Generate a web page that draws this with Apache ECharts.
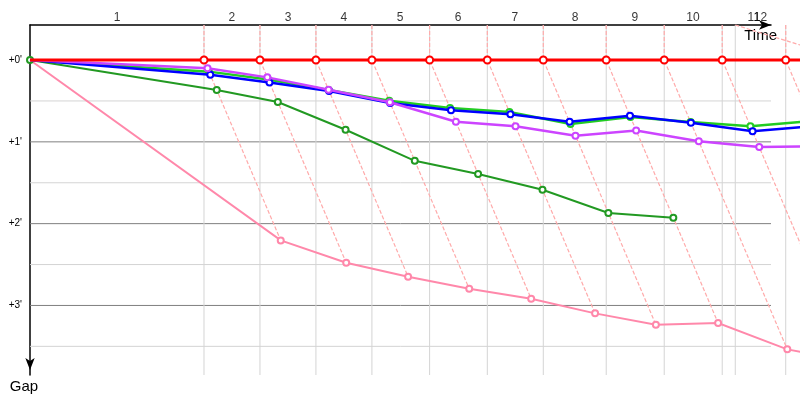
<!DOCTYPE html>
<html>
<head>
<meta charset="utf-8">
<script src="https://cdn.jsdelivr.net/npm/echarts@6/dist/echarts.min.js"></script>
<style>
html,body{margin:0;padding:0;background:#fff;}
#main{width:800px;height:400px;}
</style>
</head>
<body>
<div id="main"></div>
<script>
// leader lap crossing times (seconds), last one is off the right edge
var lapTimes = [300, 396.5, 493, 589.5, 689, 788.5, 885, 993.5, 1093.5, 1193.5, 1303, 1405];
var extraTime = 1216;
var lapLabels = ['1','2','3','4','5','6','7','8','9','10','11','12'];
var lapLabelTimes = [150, 348, 445, 541, 638, 738, 836, 940, 1043, 1143, 1248, 1259.5];

// gap to leader (seconds) at each lap crossing
var gapGreen     = [8.5, 14.3, 22.0, 29.9, 35.2, 38.1, 46.9, 41.8, 45.5, 48.6, 44.7];
var gapBlue      = [10.8, 16.4, 22.7, 31.5, 36.9, 39.8, 45.3, 40.9, 46.0, 52.3, 48.4];
var gapPurple    = [6.1, 12.7, 21.8, 31.0, 45.3, 48.6, 55.5, 51.6, 59.6, 63.8, 63.1];
var gapDarkGreen = [22.0, 30.8, 51.1, 73.9, 83.6, 95.1, 112.2, 115.7];
var gapPink      = [132.3, 148.7, 158.9, 167.8, 175.1, 185.8, 194.1, 192.9, 212.2, 220.8];

// odd dashed segment at the top right
var topLine = [[1216, -25.7], [1328, -11]];

var minuteLines = [60, 120, 180];
var halfLines = [30, 90, 150, 210];
var gapLabels = [0, 60, 120, 180];

var xMax = 1277.6, yMin = -25.7, yMax = 231;
var font = 'Liberation Sans';

function carPoints(gaps) {
    var d = [[0, 0]];
    for (var i = 0; i < gaps.length; i++) {
        d.push([lapTimes[i] + gaps[i], gaps[i]]);
    }
    return d;
}

// a car = polyline (lines series, so it may run past the grid) + hollow markers
function carSeries(gaps, color, width, z, startMark, size) {
    var pts = carPoints(gaps);
    return [{
        type: 'lines',
        coordinateSystem: 'cartesian2d',
        polyline: true,
        clip: false,
        silent: true,
        z: z,
        lineStyle: {color: color, width: width, opacity: 1},
        data: [{coords: pts}]
    }, {
        type: 'scatter',
        clip: false,
        silent: true,
        z: z + 1,
        symbol: 'emptyCircle',
        symbolSize: size || 6,
        itemStyle: {color: color, borderWidth: 1.2, opacity: 1},
        data: startMark ? pts : pts.slice(1)
    }];
}

var leaderGaps = [];
for (var i = 0; i < lapTimes.length; i++) leaderGaps.push(0);

var gridLines = [];
for (var i = 0; i < halfLines.length; i++) {
    gridLines.push({coords: [[0, halfLines[i]], [xMax, halfLines[i]]], lineStyle: {color: '#d4d4d4'}});
}
for (var i = 0; i < minuteLines.length; i++) {
    gridLines.push({coords: [[0, minuteLines[i]], [xMax, minuteLines[i]]], lineStyle: {color: '#808080'}});
}
var vTimes = lapTimes.concat([extraTime]);
for (var i = 0; i < vTimes.length; i++) {
    gridLines.push({coords: [[vTimes[i], yMin], [vTimes[i], yMax]], lineStyle: {color: '#d4d4d4'}});
}

var lapLines = [];
for (var i = 0; i < lapTimes.length; i++) {
    var g = i < gapPink.length ? gapPink[i] : yMax;
    lapLines.push({coords: [[lapTimes[i], yMin], [lapTimes[i], 0], [lapTimes[i] + g, g]]});
}
lapLines.push({coords: topLine});

var labelData = [];
for (var i = 0; i < lapLabels.length; i++) {
    labelData.push({name: lapLabels[i], value: [lapLabelTimes[i], -31.2]});
}

var series = [
    {type: 'lines', coordinateSystem: 'cartesian2d', polyline: true, clip: false, silent: true, z: 1,
     lineStyle: {width: 1, opacity: 1}, data: gridLines},
    {type: 'lines', coordinateSystem: 'cartesian2d', polyline: true, clip: false, silent: true, z: 2,
     lineStyle: {color: '#ffaaaa', width: 1.2, type: [4, 2], opacity: 1}, data: lapLines}
];
series = series.concat(
    carSeries(gapPink, '#ff88aa', 2, 3, false),
    carSeries(gapDarkGreen, '#229922', 2, 5, true),
    carSeries(gapGreen, '#22cc22', 2.5, 7, false),
    carSeries(gapBlue, '#0000ff', 2.5, 9, false),
    carSeries(gapPurple, '#cc44ff', 2.5, 11, false),
    carSeries(leaderGaps, '#ff0000', 3, 13, false, 7)
);
series.push({
    type: 'scatter', data: labelData, clip: false, symbolSize: 0, silent: true, z: 20,
    label: {show: true, position: 'inside', formatter: '{b}', fontFamily: font, fontSize: 12, color: '#000'}
});

var myChart = echarts.init(document.getElementById('main'));
myChart.setOption({
    animation: false,
    backgroundColor: '#fff',
    grid: {left: 30, top: 25, right: 29, bottom: 25, containLabel: false, outerBoundsMode: 'none'},
    xAxis: {
        type: 'value',
        position: 'top',
        min: 0,
        max: xMax,
        name: 'Time',
        nameLocation: 'end',
        nameGap: 6,
        nameTextStyle: {fontFamily: font, fontSize: 15, color: '#000', align: 'right', verticalAlign: 'top', padding: [3, 0, 0, 0]},
        axisLine: {onZero: false, lineStyle: {color: '#000', width: 1.5}, symbol: ['none', 'arrow'], symbolSize: [7, 12], symbolOffset: [0, 0]},
        axisTick: {show: false},
        axisLabel: {show: false},
        splitLine: {show: false}
    },
    yAxis: {
        type: 'value',
        inverse: true,
        min: yMin,
        max: yMax,
        name: 'Gap',
        nameLocation: 'end',
        nameGap: 4,
        nameTextStyle: {fontFamily: font, fontSize: 15, color: '#000', align: 'center', verticalAlign: 'top', padding: [0, 12, 0, 0]},
        axisLine: {onZero: false, lineStyle: {color: '#000', width: 1.5}, symbol: ['arrow', 'none'], symbolSize: [7, 12], symbolOffset: [5, 0]},
        axisTick: {show: false},
        axisLabel: {
            customValues: gapLabels,
            margin: 8,
            fontFamily: font,
            fontSize: 10,
            color: '#000',
            formatter: function (v) { return '+' + Math.round(v / 60) + '\''; }
        },
        splitLine: {show: false}
    },
    series: series
});
</script>
</body>
</html>
